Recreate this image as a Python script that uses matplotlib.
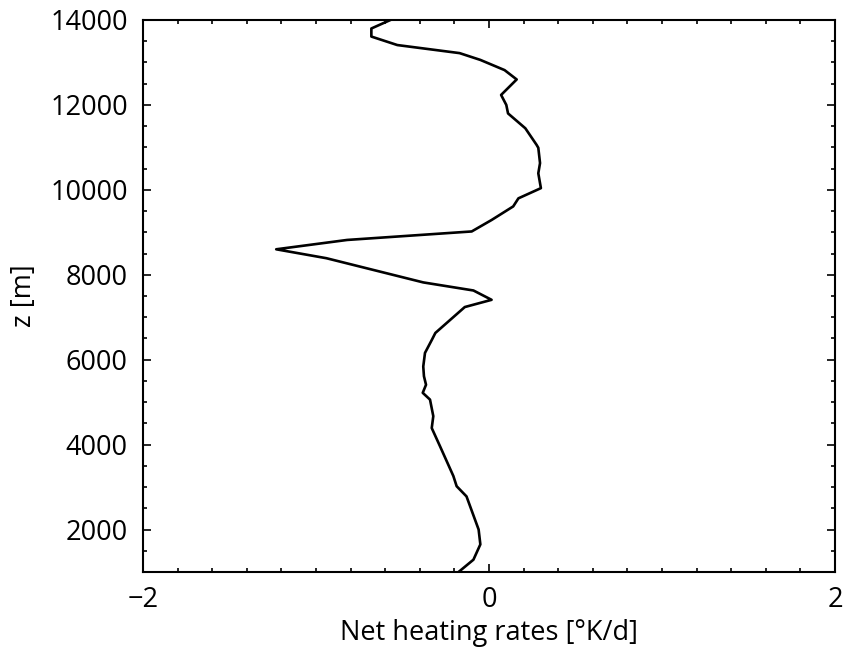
import matplotlib
matplotlib.use("Agg")
import matplotlib.pyplot as plt
from matplotlib.ticker import MultipleLocator

heating = [-0.57, -0.68, -0.68, -0.53, -0.17, -0.05, 0.09, 0.16, 0.07, 0.10, 0.11, 0.21, 0.275,
           0.285, 0.295, 0.285, 0.30, 0.17, 0.14, 0.015, -0.10, -0.82, -1.23, -0.94, -0.38,
           -0.09, 0.015, -0.14, -0.31, -0.33, -0.37, -0.38, -0.376, -0.364, -0.383, -0.341,
           -0.322, -0.331, -0.283, -0.206, -0.187, -0.13, -0.06, -0.05, -0.09, -0.17]
height = [14000, 13800, 13610, 13410, 13220, 13060, 12820, 12600, 12235, 12000, 11800, 11450, 11060,
          10990, 10630, 10390, 10040, 9800, 9610, 9290, 9020, 8820, 8600, 8390, 7820,
          7630, 7410, 7240, 6630, 6470, 6160, 5840, 5610, 5410, 5220, 5060,
          4670, 4390, 3960, 3260, 3020, 2780, 2000, 1650, 1290, 1020]

plt.rcParams['font.family'] = ['Open Sans', 'DejaVu Sans']
fig = plt.figure(figsize=(8.45, 6.52), dpi=100)
ax = fig.add_axes([143/845, 1-572/652, (835-143)/845, (572-20)/652])
ax.plot(heating, height, color='black', lw=1.9)
ax.set_xlim(-2, 2)
ax.set_ylim(1000, 14000)
ax.set_xticks([-2, 0, 2])
ax.set_xticklabels(['\u22122', '0', '2'])
ax.set_yticks([2000, 4000, 6000, 8000, 10000, 12000, 14000])
ax.xaxis.set_minor_locator(MultipleLocator(0.2))
ax.yaxis.set_minor_locator(MultipleLocator(500))
ax.tick_params(which='both', direction='in', top=True, right=True, labelsize=19.5, width=1.2)
ax.tick_params(which='major', length=6)
ax.tick_params(which='minor', length=3)
ax.tick_params(axis='y', pad=11)
ax.tick_params(axis='x', pad=10)
for s in ax.spines.values():
    s.set_linewidth(1.5)
ax.set_xlabel('Net heating rates [°K/d]', fontsize=19.5, labelpad=4)
ax.set_ylabel('z [m]', fontsize=19.5, labelpad=9)
fig.savefig('out.png', dpi=100)
